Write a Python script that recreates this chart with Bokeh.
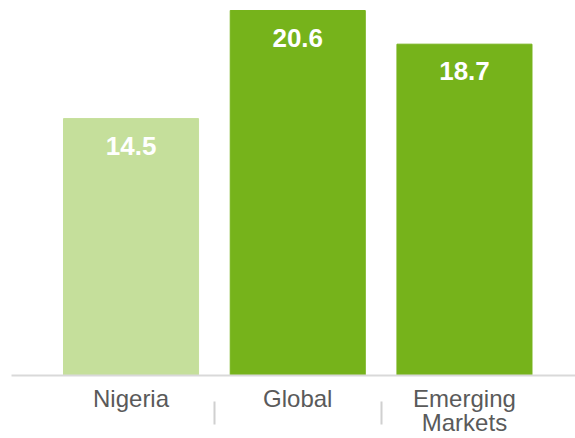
from bokeh.plotting import figure
from bokeh.models import ColumnDataSource, FixedTicker, Range1d
from bokeh.core.properties import value
from bokeh.embed import file_html
from bokeh.resources import INLINE

categories = ["Nigeria", "Global", "Emerging\nMarkets"]
values = [14.5, 20.6, 18.7]
labels = ["14.5", "20.6", "18.7"]
colors = ["#c5df9b", "#76b31b", "#76b31b"]

xs = list(range(len(categories)))
src = ColumnDataSource(dict(x=xs, top=values, label=labels, color=colors))

p = figure(width=575, height=438, output_backend="svg", toolbar_location=None,
           x_range=Range1d(-0.717, 2.666), y_range=Range1d(0, 21.165),
           min_border_left=11, min_border_right=0, min_border_top=0, min_border_bottom=63)

p.vbar(x="x", top="top", width=0.81, bottom=0, color="color", source=src)
p.text(x="x", y="top", text="label", source=src, text_color="white",
       text_font=value("Liberation Sans"), text_font_style="bold", text_font_size="26px",
       text_align="center", text_baseline="middle", y_offset=27)

p.yaxis.visible = False
p.xgrid.visible = False
p.ygrid.visible = False
p.outline_line_color = None

ax = p.xaxis[0]
ax.ticker = FixedTicker(ticks=xs, minor_ticks=[0.5, 1.5])
ax.major_label_overrides = {i: c for i, c in enumerate(categories)}
ax.major_tick_in = 0
ax.major_tick_out = 0
ax.minor_tick_in = -26
ax.minor_tick_out = 49
ax.minor_tick_line_color = "#d0d0d0"
ax.minor_tick_line_width = 2
ax.axis_line_color = "#d9d9d9"
ax.axis_line_width = 2
ax.major_label_text_font = "Liberation Sans"
ax.major_label_text_font_size = "24px"
ax.major_label_text_line_height = 0.9
ax.major_label_text_color = "#5a5a5a"
ax.major_label_standoff = -40

open("out.html", "w").write(file_html(p, INLINE))
